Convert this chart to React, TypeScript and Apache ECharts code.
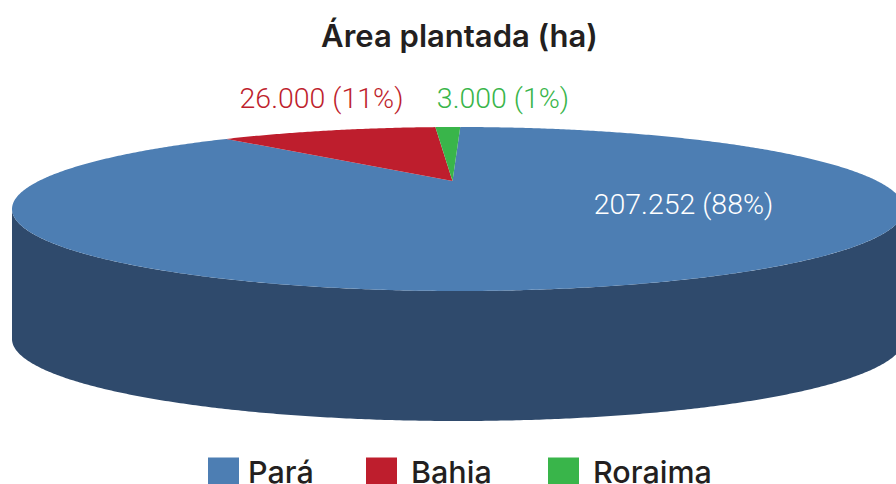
import React, { useEffect, useRef } from "react";
import * as echarts from "echarts";

const titleText = "Área plantada (ha)";
const states = ["Pará", "Bahia", "Roraima"];
const areas = [207252, 26000, 3000];
const colors = ["#4d7eb3", "#be1e2d", "#39b54a"];
const labelColors = ["#ffffff", "#be1e2d", "#39b54a"];
const wallColor = "#2f4a6c";
const inkColor = "#231f20";
const headFont = "Inter, 'Noto Sans', sans-serif";
const labelFont = "Roboto, 'Noto Sans', sans-serif";

// Disc geometry (a circle seen in perspective)
const CX = 458, CY = 209, RX = 446, RY = 82, DEPTH = 130;
const APEX_X = 452.5, APEX_Y = 181;
const START_DEG = 1.3;
const LABEL_POS = [[683.5, 204], [321.5, 98], [503, 98]];

const total = areas.reduce((a, b) => a + b, 0);

// Projects a point on the true circle to the drawn ellipse.
function project(deg: number): number[] {
  const r = (deg * Math.PI) / 180;
  const x = Math.sin(r), y = Math.cos(r);
  const ax = (APEX_X - CX) / RX, ay = (CY - APEX_Y) / RY;
  const a2 = ax * ax + ay * ay;
  const dot = ax * x + ay * y;
  const k = dot / a2;
  const px = ax * k, py = ay * k;
  const s = Math.sqrt(1 - a2);
  const d = 1 + dot;
  const u = (ax + px + s * (x - px)) / d;
  const v = (ay + py + s * (y - py)) / d;
  return [CX + u * RX, CY - v * RY];
}

function ellipsePoints(fromDeg: number, toDeg: number, cy: number): number[][] {
  const pts: number[][] = [];
  const n = Math.max(2, Math.ceil(Math.abs(toDeg - fromDeg) * 2));
  for (let i = 0; i <= n; i++) {
    const t = ((fromDeg + ((toDeg - fromDeg) * i) / n) * Math.PI) / 180;
    pts.push([CX + RX * Math.sin(t), cy - RY * Math.cos(t)]);
  }
  return pts;
}

function formatLabel(value: number): string {
  const txt = value.toLocaleString("pt-BR");
  return `${txt} (${Math.round((value / total) * 100)}%)`;
}

function sliceSeries(index: number) {
  const before = areas.slice(0, index).reduce((a, b) => a + b, 0);
  return {
    type: "custom",
    name: states[index],
    coordinateSystem: "none",
    silent: true,
    itemStyle: { color: colors[index] },
    data: [[areas[index]]],
    renderItem: (_p: any, api: any) => {
      const value = api.value(0) as number;
      const from = START_DEG + (before / total) * 360;
      const to = from + (value / total) * 360;
      const children: any[] = [];
      if (index === 0) {
        children.push({
          type: "polygon",
          shape: {
            points: [
              ...ellipsePoints(-90, -270, CY),
              ...ellipsePoints(-270, -90, CY + DEPTH),
            ],
          },
          style: { fill: wallColor },
        });
      }
      const arc: number[][] = [];
      const n = Math.ceil((to - from) * 2);
      for (let i = 0; i <= n; i++) arc.push(project(from + ((to - from) * i) / n));
      children.push({
        type: "polygon",
        shape: { points: [[APEX_X, APEX_Y], ...arc] },
        style: { fill: colors[index] },
      });
      children.push({
        type: "text",
        z2: 10,
        style: {
          x: LABEL_POS[index][0],
          y: LABEL_POS[index][1],
          text: formatLabel(value),
          fill: labelColors[index],
          font: `300 28.5px ${labelFont}`,
          align: "center",
          verticalAlign: "middle",
        },
      });
      return { type: "group", children };
    },
  };
}

const legendLayout = [
  { left: 208, pad: 4 },
  { left: 366, pad: 9 },
  { left: 548, pad: 9 },
];

export default function App() {
  const ref = useRef<HTMLDivElement>(null);
  useEffect(() => {
    const chart = echarts.init(ref.current!, null, { renderer: "svg" });
    chart.setOption({
      animation: false,
      backgroundColor: "#ffffff",
      title: {
        text: titleText,
        left: 459.5,
        top: 20,
        padding: 0,
        textAlign: "center",
        textStyle: { fontFamily: headFont, fontSize: 31, fontWeight: 600, color: inkColor },
      },
      legend: states.map((name, i) => ({
        data: [name],
        left: legendLayout[i].left,
        top: 456,
        padding: 0,
        icon: "rect",
        itemWidth: 31,
        itemHeight: 28,
        selectedMode: false,
        textStyle: {
          fontFamily: headFont,
          fontSize: 30.5,
          fontWeight: 500,
          color: inkColor,
          padding: [0, 0, 6, legendLayout[i].pad],
        },
      })),
      series: states.map((_, i) => sliceSeries(i)),
    });
    return () => chart.dispose();
  }, []);
  return (
    <div
      ref={ref}
      style={{ position: "fixed", left: 0, top: 0, width: 896, height: 484 }}
    />
  );
}
